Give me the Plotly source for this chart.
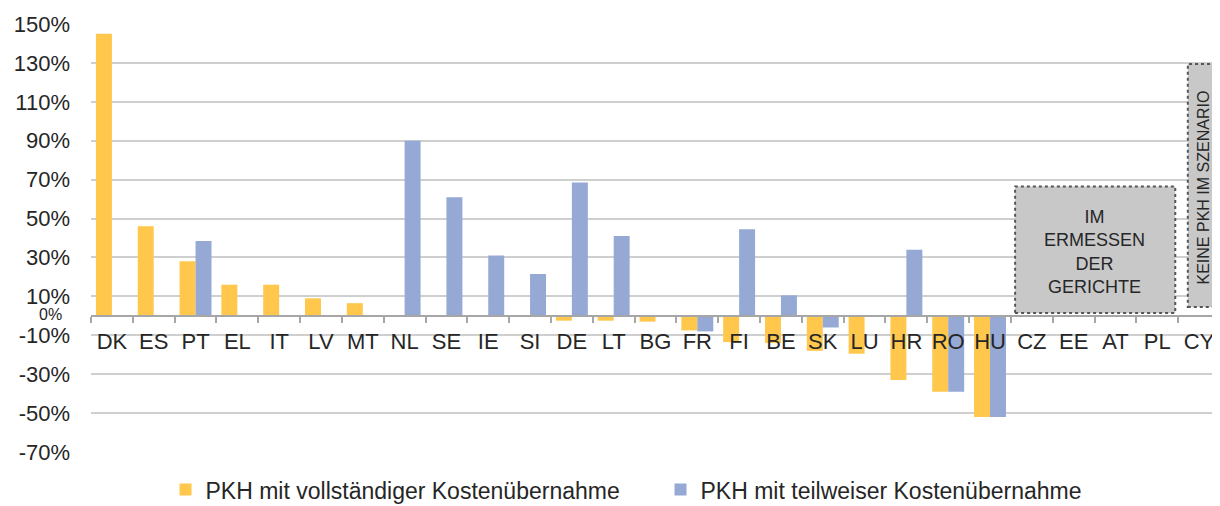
import plotly.graph_objects as go

categories = ["DK", "ES", "PT", "EL", "IT", "LV", "MT", "NL", "SE", "IE", "SI", "DE", "LT", "BG",
              "FR", "FI", "BE", "SK", "LU", "HR", "RO", "HU", "CZ", "EE", "AT", "PL", "CY"]
full_cost = [145, 46, 28, 16, 16, 9, 6.5, None, None, None, None, -2.5, -2.5, -3,
             -7.5, -13.5, -14, -18, -19.5, -33, -39, -52, None, None, None, None, None]
partial_cost = [None, None, 38.5, None, None, None, None, 90, 61, 31, 21.5, 68.5, 41, None,
                -8, 44.5, 10.5, -6, None, 34, -39, -52, None, None, None, None, None]
series_names = ["PKH mit vollständiger Kostenübernahme", "PKH mit teilweiser Kostenübernahme"]
y_ticks = [150, 130, 110, 90, 70, 50, 30, 10, -10, -30, -50, -70]
y_ticktext = [f"{v}%" for v in y_ticks]
box1_text = "IM<br>ERMESSEN<br>DER<br>GERICHTE"
box2_text = "KEINE PKH IM SZENARIO"

YELLOW = "#FFC84C"
BLUE = "#95A9D4"
FONT = "Liberation Sans, Arial, sans-serif"
NARROW = "Liberation Sans Narrow, Arial Narrow, Liberation Sans, Arial, sans-serif"
TXT = "#262626"

fig = go.Figure()
fig.add_trace(go.Bar(x=categories, y=full_cost, name=series_names[0],
                     marker=dict(color=YELLOW, line=dict(width=0))))
fig.add_trace(go.Bar(x=categories, y=partial_cost, name=series_names[1],
                     marker=dict(color=BLUE, line=dict(width=0))))

ymin, ymax = -70, 150
idx = {c: i for i, c in enumerate(categories)}

# grey boxes
fig.add_shape(type="rect", xref="x", yref="y",
              x0=idx["CZ"] - 0.4, x1=idx["PL"] + 0.43, y0=1.5, y1=66.5,
              fillcolor="#C8C8C8", line=dict(color="#555555", width=2, dash="dot"), layer="above")
fig.add_shape(type="rect", xref="x", yref="y",
              x0=idx["CY"] - 0.27, x1=idx["CY"] + 0.46, y0=4.5, y1=129.5,
              fillcolor="#C8C8C8", line=dict(color="#555555", width=2, dash="dot"), layer="above")

fig.add_annotation(x=(idx["CZ"] + idx["PL"]) / 2, y=33, xref="x", yref="y",
                   text=box1_text, showarrow=False, align="center",
                   font=dict(family=NARROW, size=18, color=TXT))
fig.add_annotation(x=idx["CY"] + 0.095, y=66, xref="x", yref="y",
                   text=box2_text, showarrow=False, textangle=-90,
                   font=dict(family=NARROW, size=16, color=TXT))

# small 0% label
fig.add_annotation(x=0, y=0, xref="paper", yref="y", text="0%", showarrow=False,
                   xanchor="right", yanchor="middle", xshift=-27, yshift=1,
                   font=dict(family=FONT, size=16, color=TXT))

# page body has an 8px margin, so the figure is sized to end at the window edge
fig.update_layout(
    width=1212, height=498,
    template="none",
    paper_bgcolor="white", plot_bgcolor="white",
    margin=dict(l=83, r=0, t=16, b=54, autoexpand=False),
    barmode="group", bargap=0.236, bargroupgap=0,
    font=dict(family=FONT, size=22, color=TXT),
    showlegend=True,
    legend=dict(orientation="h", x=0.066, xanchor="left", y=-0.088, yanchor="middle",
                font=dict(family=FONT, size=23, color=TXT),
                entrywidth=450, entrywidthmode="pixels",
                bgcolor="rgba(0,0,0,0)", borderwidth=0, traceorder="normal"),
    xaxis=dict(type="category", anchor="free", position=(0 - ymin) / (ymax - ymin),
               showline=True, linecolor="#A6A6A6", linewidth=2,
               ticks="outside", tickson="boundaries", ticklen=6, tickcolor="#A6A6A6", tickwidth=1.5,
               showgrid=False, zeroline=False, ticklabelstandoff=6, tickangle=0,
               tickfont=dict(family=FONT, size=22, color=TXT), automargin=False),
    yaxis=dict(range=[ymin, ymax], tickvals=y_ticks, ticktext=y_ticktext,
               showgrid=True, gridcolor="#CFCFCF", gridwidth=2,
               zeroline=False, showline=False, ticks="", ticklabelstandoff=20,
               tickfont=dict(family=FONT, size=22, color=TXT), automargin=False),
)

fig.write_html("out.html")
